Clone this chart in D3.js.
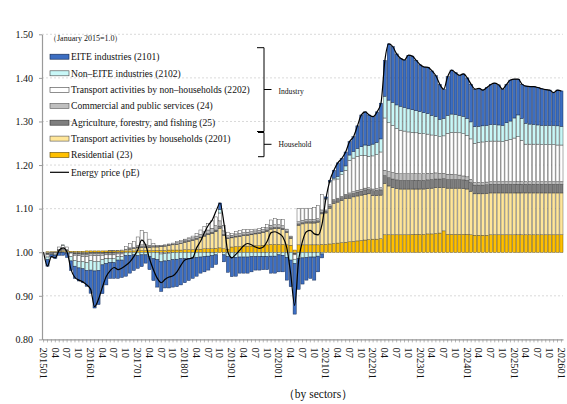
<!DOCTYPE html>
<html><head><meta charset="utf-8">
<script src="https://cdn.jsdelivr.net/npm/d3@7"></script>
<style>
body{margin:0;background:#fff}
text{font-family:"Liberation Serif","Times New Roman",serif;fill:#111}
</style>
</head><body>
<svg id="chart" width="567" height="404"></svg>
<script>
// ---------- DATA ----------
const years = [2015,2016,2017,2018,2019,2020,2021,2022,2023,2024,2025,2026];
const yTicks = [0.80,0.90,1.00,1.10,1.20,1.30,1.40,1.50];
const xTickMonths = ["01","04","07","10"];
const months = [];
years.forEach(y => { for (let m = 1; m <= 12; m++) { if (y === 2026 && m > 1) break; months.push(y + String(m).padStart(2,"0")); } });

const residential = [0,.001,.001,.001,.002,.002,.002,.002,.002,.002,.002,.003,
 .003,.003,.003,.003,.003,.003,.003,.003,.003,.003,.003,.003,
 .004,.004,.004,.004,.004,.004,.004,.004,.005,.005,.005,.005,
 .006,.006,.006,.007,.007,.008,.008,.008,.009,.010,.008,.007,
 .012,.013,.013,.014,.014,.014,.015,.015,.016,.017,.018,.018,
 .018,.018,.017,.016,.005,.017,.017,.017,.017,.017,.017,.018,
 .018,.019,.020,.021,.022,.023,.024,.025,.026,.027,.028,.029,
 .030,.030,.031,.040,.040,.040,.040,.040,.040,.040,.041,.041,
 .041,.041,.042,.042,.043,.044,.049,.041,.041,.041,.041,.041,
 .041,.040,.039,.039,.039,.039,.040,.040,.040,.040,.040,.040,
 .040,.040,.040,.040,.040,.040,.040,.040,.040,.040,.040,.040,.040];
const transportHH = [0,-.003,-.001,-.001,.002,.003,.002,0,-.002,-.002,-.002,-.002,
 -.001,-.001,-.001,-.001,0,.001,.001,.001,.002,.003,.004,.005,
 .006,.007,.007,.007,.008,.008,.009,.010,.011,.012,.013,.015,
 .017,.019,.021,.023,.026,.029,.032,.035,.038,.045,.030,.024,
 .021,.022,.023,.024,.025,.026,.027,.028,.029,.031,.035,.036,
 .036,.034,.028,.016,-.003,.045,.048,.050,.050,.050,.052,.070,
 .072,.082,.092,.094,.097,.100,.100,.102,.103,.104,.105,.105,
 .100,.100,.100,.118,.112,.108,.106,.105,.105,.105,.104,.104,
 .104,.104,.104,.105,.105,.104,.100,.106,.106,.106,.106,.105,
 .104,.100,.095,.095,.095,.096,.096,.096,.096,.096,.096,.096,
 .096,.096,.096,.096,.096,.096,.096,.096,.096,.096,.096,.096,.096];
const agriculture = [0,-.001,0,0,.001,.001,.001,-.001,-.002,-.002,-.003,-.003,
 -.002,-.002,-.002,-.002,-.002,-.002,-.002,-.001,-.001,0,.001,.001,
 .002,.002,.002,.002,.001,.001,.001,.001,.001,.001,.001,.001,
 .002,.002,.002,.002,.002,.003,.003,.003,.004,.005,.003,.002,
 .002,.002,.002,.002,.002,.002,.002,.002,.002,.003,.003,.003,
 .003,.003,.003,.002,-.001,.003,.003,.003,.003,.003,.003,.004,
 .004,.005,.006,.006,.006,.007,.008,.008,.009,.009,.010,.010,
 .011,.012,.012,.018,.019,.020,.020,.020,.020,.020,.020,.020,
 .020,.020,.020,.020,.020,.020,.020,.020,.020,.020,.020,.020,
 .020,.020,.020,.020,.020,.020,.020,.020,.020,.020,.020,.020,
 .020,.020,.020,.020,.020,.020,.020,.020,.020,.020,.020,.020,.020];
const commercial = [0,-.002,-.001,-.001,.001,.002,.001,-.001,-.003,-.004,-.005,-.005,
 -.004,-.005,-.005,-.004,-.004,-.004,-.004,-.003,-.003,.001,.002,.002,
 .003,.004,.004,.003,.002,.002,.002,.002,.002,.003,.003,.003,
 .003,.004,.004,.005,.006,.007,.008,.009,.010,.012,.008,.005,
 .004,.005,.005,.005,.005,.005,.005,.005,.005,.005,.006,.006,
 .006,.006,.004,.002,-.002,.005,.005,.005,.005,.005,.005,.005,
 .003,.003,.003,.003,.003,.003,.004,.004,.004,.004,.004,.004,
 .004,.004,.005,.012,.014,.015,.015,.015,.015,.015,.015,.015,
 .015,.015,.015,.014,.014,.013,.012,.012,.012,.011,.010,.009,
 .008,.007,.006,.006,.006,.006,.006,.006,.006,.006,.006,.006,
 .006,.006,.006,.006,.006,.006,.006,.006,.006,.006,.006,.006,.006];
const transportNonHH = [0,-.005,-.002,-.003,.006,.008,.006,-.008,-.012,-.013,-.012,-.014,
 -.012,-.013,-.013,-.010,-.009,-.008,-.008,-.006,-.006,.006,.010,.014,
 .020,.033,.028,.014,.005,.001,-.004,-.003,-.002,-.001,.002,.003,
 .002,.002,.004,.006,.010,.012,.015,.017,.020,.018,.012,.008,
 .004,.006,.007,.007,.006,.005,.004,.004,.005,.007,.012,.015,
 .012,.014,.001,.001,-.010,.030,.028,.026,.026,.027,.030,.035,
 .025,.052,.045,.044,.050,.055,.075,.077,.078,.078,.075,.072,
 .076,.078,.082,.120,.112,.108,.103,.100,.098,.096,.095,.094,
 .093,.092,.090,.088,.086,.084,.086,.094,.096,.097,.097,.097,
 .095,.093,.090,.092,.093,.093,.093,.093,.093,.092,.095,.097,
 .100,.103,.095,.086,.086,.086,.086,.085,.085,.085,.085,.084,.084];
const nonEITE = [0,-.006,-.002,-.002,0,.001,-.002,-.010,-.013,-.015,-.016,-.018,
 -.022,-.022,-.021,-.012,-.011,-.010,-.010,-.008,-.008,-.008,-.007,-.006,
 -.008,-.006,-.006,-.010,-.015,-.017,-.018,-.017,-.017,-.016,-.016,-.015,
 -.015,-.014,-.013,-.012,-.011,-.010,-.009,-.008,-.006,.008,-.006,-.010,
 -.012,-.012,-.011,-.011,-.011,-.010,-.010,-.010,-.010,-.010,-.009,-.009,
 -.006,-.007,-.012,-.018,-.010,-.015,-.013,-.012,-.011,-.011,-.009,-.004,
 .002,.002,.004,.006,.007,.010,.012,.015,.018,.020,.024,.025,
 .027,.028,.030,.050,.052,.053,.054,.055,.054,.053,.052,.051,
 .050,.048,.047,.045,.043,.040,.040,.041,.042,.041,.040,.040,
 .039,.039,.038,.037,.037,.037,.038,.038,.037,.037,.040,.042,
 .046,.050,.050,.048,.046,.045,.044,.044,.044,.044,.044,.044,.043];
const eite = [0,-.015,-.005,-.007,-.007,-.007,-.010,-.022,-.028,-.030,-.032,-.036,
 -.053,-.085,-.078,-.066,-.049,-.036,-.036,-.042,-.040,-.047,-.041,-.036,
 -.029,-.027,-.019,-.030,-.050,-.063,-.068,-.062,-.063,-.063,-.063,-.060,
 -.055,-.051,-.047,-.043,-.037,-.035,-.032,-.027,-.022,.015,-.016,-.036,
 -.044,-.043,-.037,-.037,-.037,-.035,-.031,-.031,-.030,-.030,-.039,-.039,
 -.039,-.038,-.052,-.061,-.116,-.070,-.060,-.052,-.049,-.053,-.036,-.009,
 .003,.002,.018,.031,.030,.032,.031,.034,.052,.073,.076,.070,
 .063,.070,.082,.082,.129,.128,.117,.110,.109,.123,.123,.115,
 .107,.105,.106,.102,.094,.080,.067,.089,.101,.096,.092,.097,
 .093,.086,.086,.087,.082,.087,.092,.095,.092,.083,.088,.094,
 .089,.082,.078,.085,.086,.087,.086,.084,.082,.081,.075,.082,.081];
const energyPrice = [1.000,0.968,0.990,0.987,1.005,1.010,1.000,0.960,0.942,0.936,0.932,0.925,
 0.915,0.875,0.892,0.920,0.945,0.958,0.965,0.960,0.964,0.970,0.978,0.990,
 1.005,1.028,1.017,0.985,0.960,0.940,0.930,0.938,0.943,0.946,0.955,0.970,
 0.982,0.985,0.987,1.010,1.025,1.045,1.062,1.074,1.095,1.113,1.065,1.000,
 0.987,0.995,1.005,1.015,1.020,1.017,1.012,1.009,1.012,1.025,1.045,1.047,
 1.043,1.035,1.010,0.950,0.878,0.980,1.025,1.047,1.050,1.042,1.040,1.065,
 1.125,1.165,1.188,1.205,1.215,1.230,1.254,1.265,1.290,1.315,1.322,1.315,
 1.311,1.322,1.342,1.440,1.478,1.472,1.455,1.445,1.441,1.452,1.450,1.440,
 1.430,1.425,1.424,1.416,1.405,1.385,1.374,1.403,1.418,1.412,1.406,1.409,
 1.400,1.385,1.374,1.376,1.372,1.378,1.385,1.388,1.384,1.374,1.385,1.395,
 1.397,1.397,1.385,1.381,1.380,1.380,1.378,1.375,1.373,1.372,1.366,1.372,1.370];

const seriesDefs = [
  {key:"res",  name:"Residential (23)", values:residential, fill:"#ffc000", stroke:"#5a4400"},
  {key:"thh",  name:"Transport activities by households (2201)", values:transportHH, fill:"#ffe699", stroke:"#555"},
  {key:"agr",  name:"Agriculture, forestry, and fishing (25)", values:agriculture, fill:"#7f7f7f", stroke:"#333"},
  {key:"com",  name:"Commercial and public services (24)", values:commercial, fill:"#bfbfbf", stroke:"#555"},
  {key:"tnh",  name:"Transport activities by non\u2013households (2202)", values:transportNonHH, fill:"#ffffff", stroke:"#444"},
  {key:"ne",   name:"Non\u2013EITE industries (2102)", values:nonEITE, fill:"#c8f7f7", stroke:"#444"},
  {key:"eite", name:"EITE industries (2101)", values:eite, fill:"#3c6ec2", stroke:"#10254a"}
];
const legendOrder = ["eite","ne","tnh","com","agr","thh","res"];

// ---------- CHART ----------
const svg = d3.select("#chart");
const L = 42, R = 563, T = 34.3, B = 339.4;
const x = d3.scaleBand().domain(months).range([L, R]).paddingInner(0.2).paddingOuter(0);
const y = d3.scaleLinear().domain([0.8, 1.5]).range([B, T]);

// gridlines
svg.append("g").selectAll("line").data(yTicks.filter(v => v > 0.8)).join("line")
  .attr("x1", L).attr("x2", R).attr("y1", d => y(d)).attr("y2", d => y(d))
  .attr("stroke", "#cfcfcf").attr("stroke-width", 0.8).attr("stroke-dasharray", "2,2");

// stacked bars
const table = months.map((m, i) => {
  const row = {month: m};
  seriesDefs.forEach(s => row[s.key] = s.values[i]);
  return row;
});
const stack = d3.stack().keys(seriesDefs.map(s => s.key)).offset(d3.stackOffsetDiverging);
const stacked = stack(table);
const bars = svg.append("g");
stacked.forEach((layer, k) => {
  const s = seriesDefs[k];
  bars.append("g").selectAll("rect").data(layer).join("rect")
    .attr("x", d => x(d.data.month))
    .attr("width", x.bandwidth())
    .attr("y", d => y(1 + Math.max(d[0], d[1])))
    .attr("height", d => Math.abs(y(1 + d[0]) - y(1 + d[1])))
    .attr("fill", s.fill).attr("stroke", s.stroke).attr("stroke-width", 0.45);
});

// energy price line
const line = d3.line().x((d, i) => x(months[i]) + x.bandwidth() / 2).y(d => y(d)).curve(d3.curveMonotoneX);
svg.append("path").datum(energyPrice).attr("d", line)
  .attr("fill", "none").attr("stroke", "#000").attr("stroke-width", 1.2);

// y axis
const yAxis = svg.append("g").attr("transform", `translate(${L},0)`)
  .call(d3.axisLeft(y).tickValues(yTicks).tickSize(3).tickSizeOuter(0).tickFormat(d3.format(".2f")));
yAxis.select(".domain").attr("stroke", "#9a9a9a").attr("stroke-width", 1.2);
yAxis.selectAll(".tick line").attr("stroke", "#9a9a9a");
yAxis.selectAll(".tick text").attr("x", -9).style("font-family", "Liberation Serif").style("font-size", "10px").attr("fill", "#222");

// x axis
const xLabel = m => {
  const mm = m.slice(4);
  if (!xTickMonths.includes(mm)) return "";
  return mm === "01" ? m : mm;
};
const xAxis = svg.append("g").attr("transform", `translate(0,${B})`)
  .call(d3.axisBottom(x).tickValues(months).tickSize(3).tickSizeOuter(0).tickFormat(xLabel));
xAxis.select(".domain").attr("stroke", "#9a9a9a").attr("stroke-width", 1.2);
xAxis.selectAll(".tick line").attr("stroke", "#8a8a8a").attr("stroke-width", 0.6);
xAxis.selectAll(".tick text")
  .attr("transform", "rotate(90)").attr("x", 8).attr("y", 0).attr("dy", "0.35em")
  .attr("text-anchor", "start")
  .style("font-family", "Liberation Serif").style("font-size", "10.5px").attr("fill", "#222");

// note
svg.append("text").attr("x", 49).attr("y", 40.5).style("font-size", "8px").text("\uFF08January 2015=1.0\uFF09");

// legend
const lg = svg.append("g");
const rowY = [56.7, 73.3, 90, 106, 122.7, 138.6, 155];
legendOrder.forEach((k, i) => {
  const s = seriesDefs.find(d => d.key === k);
  lg.append("rect").attr("x", 50).attr("y", rowY[i] - 2.5).attr("width", 19).attr("height", 5)
    .attr("fill", s.fill).attr("stroke", s.stroke).attr("stroke-width", 0.6);
  lg.append("text").attr("x", 71).attr("y", rowY[i] + 3.4).style("font-size", "9.6px").text(s.name);
});
lg.append("line").attr("x1", 50).attr("x2", 69).attr("y1", 172.3).attr("y2", 172.3).attr("stroke", "#000").attr("stroke-width", 1.2);
lg.append("text").attr("x", 71).attr("y", 175.7).style("font-size", "9.6px").text("Energy price (pE)");

// brackets
const br = svg.append("g").attr("fill", "none").attr("stroke", "#000").attr("stroke-width", 1);
br.append("path").attr("d", "M257,47.7H264V131.5H257");
br.append("path").attr("d", "M264,89.5H271.5");
br.append("path").attr("d", "M258,132.5H264V156.7H258");
br.append("path").attr("d", "M264,144.3H271.5");
svg.append("text").attr("x", 278.5).attr("y", 94).style("font-size", "7.6px").text("Industry");
svg.append("text").attr("x", 278.5).attr("y", 146.8).style("font-size", "7.6px").text("Household");

// bottom title
svg.append("text").attr("x", 318).attr("y", 398).attr("text-anchor", "middle").style("font-size", "11.5px").text("\uFF08by sectors\uFF09");
</script>
</body></html>
